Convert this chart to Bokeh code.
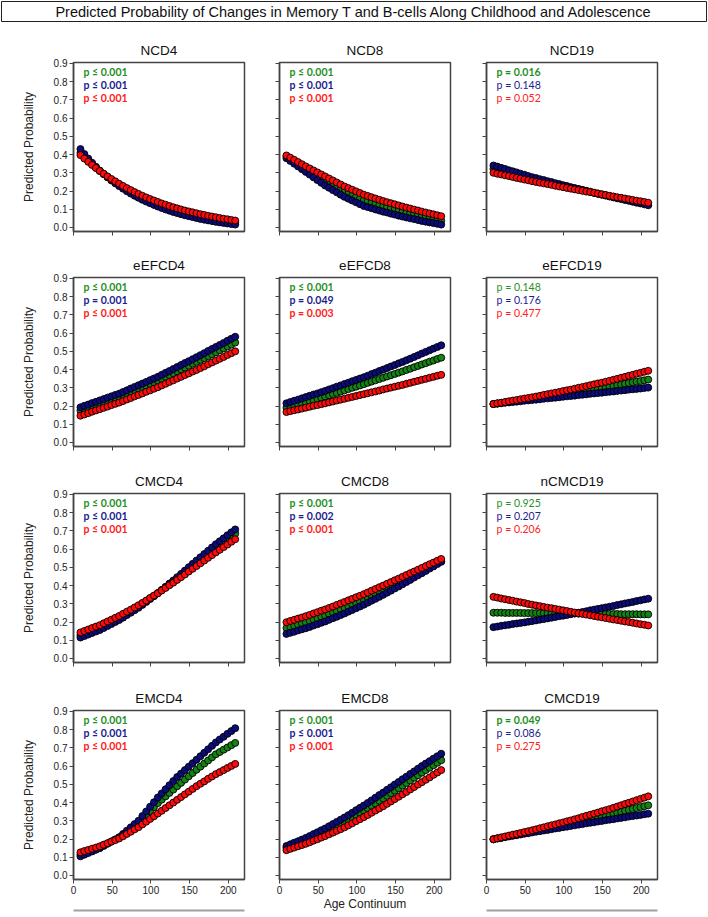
from bokeh.plotting import figure
from bokeh.layouts import column, row
from bokeh.models import FixedTicker, PrintfTickFormatter, LinearAxis, Range1d
from bokeh.embed import file_html
from bokeh.resources import INLINE
from bokeh.core.properties import value

TITLE = "Predicted Probability of Changes in Memory T and B-cells Along Childhood and Adolescence"

age = [9, 14, 19, 24, 29, 34, 39, 44, 49, 54, 59, 64, 69, 74, 79, 84, 89, 94, 99, 104,
       109, 114, 119, 124, 129, 134, 139, 144, 149, 154, 159, 164, 169, 174, 179, 184,
       189, 194, 199, 204, 209]

x_ticks = [0, 50, 100, 150, 200]
y_ticks = [0.0, 0.1, 0.2, 0.3, 0.4, 0.5, 0.6, 0.7, 0.8, 0.9]

# ---- NCD4
ncd4_green = [0.410,0.388,0.367,0.347,0.328,0.310,0.293,0.277,0.262,0.247,0.233,0.220,0.207,0.195,0.184,0.173,0.163,0.153,0.144,0.135,0.127,0.119,0.111,0.104,0.097,0.091,0.085,0.079,0.074,0.069,0.064,0.059,0.055,0.051,0.047,0.043,0.040,0.036,0.033,0.030,0.027]
ncd4_blue = [0.430,0.403,0.378,0.355,0.333,0.312,0.293,0.275,0.258,0.242,0.227,0.213,0.199,0.186,0.174,0.163,0.152,0.142,0.133,0.124,0.115,0.107,0.099,0.092,0.085,0.079,0.073,0.067,0.062,0.057,0.052,0.047,0.043,0.039,0.035,0.031,0.028,0.025,0.022,0.019,0.016]
ncd4_red = [0.397,0.378,0.360,0.343,0.326,0.310,0.295,0.280,0.266,0.253,0.240,0.228,0.216,0.205,0.194,0.184,0.174,0.165,0.156,0.148,0.140,0.132,0.125,0.118,0.111,0.105,0.099,0.093,0.088,0.083,0.078,0.073,0.069,0.064,0.060,0.056,0.052,0.048,0.045,0.041,0.038]
# ---- NCD8
ncd8_green = [0.390,0.376,0.363,0.349,0.336,0.322,0.308,0.295,0.281,0.268,0.254,0.242,0.230,0.219,0.207,0.195,0.186,0.177,0.168,0.159,0.150,0.144,0.137,0.131,0.124,0.118,0.112,0.106,0.100,0.094,0.088,0.083,0.078,0.073,0.068,0.063,0.058,0.053,0.048,0.043,0.038]
ncd8_blue = [0.380,0.365,0.350,0.335,0.320,0.305,0.290,0.275,0.260,0.245,0.230,0.218,0.205,0.193,0.180,0.168,0.158,0.148,0.138,0.128,0.118,0.112,0.106,0.099,0.093,0.087,0.082,0.076,0.071,0.065,0.060,0.055,0.050,0.046,0.041,0.036,0.032,0.028,0.024,0.020,0.016]
ncd8_red = [0.395,0.383,0.371,0.359,0.347,0.335,0.324,0.313,0.302,0.291,0.280,0.269,0.258,0.247,0.236,0.225,0.216,0.207,0.198,0.189,0.180,0.173,0.166,0.159,0.152,0.145,0.139,0.133,0.127,0.121,0.115,0.109,0.104,0.098,0.093,0.087,0.082,0.077,0.072,0.067,0.062]
# ---- NCD19
ncd19_green = [0.322,0.317,0.311,0.306,0.300,0.295,0.290,0.284,0.279,0.273,0.268,0.263,0.258,0.253,0.248,0.244,0.239,0.234,0.229,0.224,0.219,0.214,0.210,0.205,0.200,0.196,0.191,0.186,0.181,0.177,0.172,0.168,0.163,0.159,0.154,0.150,0.146,0.141,0.137,0.132,0.128]
ncd19_blue = [0.340,0.334,0.327,0.321,0.314,0.308,0.302,0.295,0.289,0.282,0.276,0.271,0.265,0.260,0.254,0.249,0.243,0.238,0.232,0.227,0.221,0.216,0.211,0.206,0.201,0.196,0.190,0.185,0.180,0.175,0.170,0.165,0.160,0.156,0.151,0.146,0.141,0.136,0.132,0.127,0.122]
ncd19_red = [0.300,0.295,0.291,0.286,0.282,0.277,0.272,0.268,0.263,0.259,0.254,0.250,0.246,0.242,0.238,0.234,0.229,0.225,0.221,0.217,0.213,0.209,0.205,0.201,0.197,0.194,0.190,0.186,0.182,0.178,0.174,0.170,0.166,0.163,0.159,0.155,0.151,0.147,0.144,0.140,0.136]
# ---- eEFCD4
eefcd4_green = [0.175,0.183,0.190,0.198,0.205,0.213,0.220,0.228,0.235,0.243,0.250,0.259,0.268,0.277,0.286,0.295,0.303,0.312,0.321,0.330,0.339,0.349,0.360,0.370,0.380,0.391,0.401,0.411,0.421,0.432,0.442,0.453,0.463,0.474,0.484,0.495,0.506,0.516,0.527,0.537,0.548]
eefcd4_blue = [0.193,0.201,0.208,0.216,0.223,0.231,0.238,0.246,0.253,0.261,0.268,0.277,0.286,0.296,0.305,0.314,0.323,0.332,0.342,0.351,0.360,0.371,0.382,0.392,0.403,0.414,0.425,0.436,0.446,0.457,0.468,0.479,0.490,0.502,0.513,0.524,0.535,0.546,0.558,0.569,0.580]
eefcd4_red = [0.147,0.154,0.161,0.169,0.176,0.183,0.190,0.197,0.205,0.212,0.219,0.227,0.236,0.244,0.253,0.261,0.269,0.278,0.286,0.295,0.303,0.313,0.322,0.332,0.341,0.351,0.360,0.370,0.379,0.389,0.398,0.408,0.418,0.429,0.439,0.449,0.459,0.469,0.480,0.490,0.500]
# ---- eEFCD8
eefcd8_green = [0.190,0.196,0.202,0.209,0.215,0.221,0.227,0.233,0.240,0.246,0.252,0.259,0.266,0.272,0.279,0.286,0.293,0.300,0.306,0.313,0.320,0.327,0.334,0.341,0.348,0.355,0.362,0.369,0.376,0.383,0.390,0.398,0.405,0.413,0.420,0.428,0.435,0.443,0.450,0.458,0.465]
eefcd8_blue = [0.215,0.222,0.229,0.235,0.242,0.249,0.256,0.263,0.269,0.276,0.283,0.291,0.298,0.306,0.313,0.321,0.328,0.336,0.343,0.351,0.358,0.366,0.375,0.383,0.392,0.400,0.408,0.417,0.425,0.434,0.442,0.451,0.460,0.469,0.478,0.488,0.497,0.506,0.515,0.524,0.533]
eefcd8_red = [0.167,0.172,0.177,0.181,0.186,0.191,0.196,0.201,0.205,0.210,0.215,0.220,0.225,0.230,0.235,0.240,0.245,0.250,0.255,0.260,0.265,0.270,0.275,0.280,0.285,0.291,0.296,0.301,0.306,0.311,0.316,0.322,0.327,0.333,0.338,0.344,0.349,0.355,0.360,0.366,0.371]
# ---- eEFCD19
eefcd19_green = [0.211,0.214,0.217,0.220,0.223,0.226,0.229,0.232,0.235,0.238,0.241,0.244,0.247,0.250,0.253,0.257,0.260,0.263,0.266,0.269,0.272,0.276,0.279,0.283,0.286,0.290,0.293,0.297,0.300,0.304,0.307,0.311,0.315,0.318,0.322,0.326,0.330,0.334,0.337,0.341,0.345]
eefcd19_blue = [0.211,0.213,0.215,0.218,0.220,0.222,0.224,0.226,0.229,0.231,0.233,0.235,0.237,0.240,0.242,0.244,0.246,0.248,0.251,0.253,0.255,0.257,0.260,0.262,0.264,0.267,0.269,0.271,0.273,0.276,0.278,0.280,0.283,0.285,0.287,0.290,0.292,0.294,0.296,0.299,0.301]
eefcd19_red = [0.211,0.215,0.218,0.222,0.226,0.230,0.233,0.237,0.241,0.244,0.248,0.252,0.256,0.261,0.265,0.269,0.273,0.277,0.282,0.286,0.290,0.295,0.300,0.304,0.309,0.314,0.319,0.324,0.328,0.333,0.338,0.344,0.349,0.355,0.360,0.366,0.371,0.377,0.382,0.388,0.393]
# ---- CMCD4
cmcd4_green = [0.128,0.136,0.144,0.153,0.161,0.169,0.180,0.190,0.201,0.211,0.222,0.235,0.248,0.260,0.273,0.286,0.301,0.315,0.330,0.344,0.359,0.375,0.391,0.408,0.424,0.440,0.457,0.474,0.491,0.508,0.525,0.542,0.558,0.575,0.591,0.608,0.623,0.639,0.654,0.670,0.685]
cmcd4_blue = [0.115,0.123,0.131,0.140,0.148,0.156,0.167,0.178,0.189,0.200,0.211,0.224,0.238,0.251,0.265,0.278,0.294,0.310,0.326,0.342,0.358,0.376,0.393,0.411,0.428,0.446,0.464,0.482,0.501,0.519,0.537,0.555,0.573,0.591,0.609,0.627,0.643,0.659,0.676,0.692,0.708]
cmcd4_red = [0.143,0.151,0.159,0.167,0.175,0.183,0.193,0.203,0.213,0.223,0.233,0.245,0.257,0.268,0.280,0.292,0.305,0.318,0.332,0.345,0.358,0.373,0.387,0.402,0.416,0.431,0.446,0.461,0.477,0.492,0.507,0.522,0.537,0.552,0.567,0.582,0.596,0.611,0.625,0.640,0.654]
# ---- CMCD8
cmcd8_green = [0.167,0.173,0.180,0.186,0.193,0.199,0.206,0.214,0.221,0.229,0.236,0.244,0.253,0.261,0.270,0.278,0.287,0.296,0.305,0.314,0.323,0.333,0.343,0.353,0.363,0.373,0.383,0.394,0.404,0.415,0.425,0.436,0.447,0.457,0.468,0.479,0.490,0.501,0.511,0.522,0.533]
cmcd8_blue = [0.135,0.141,0.147,0.154,0.160,0.166,0.173,0.181,0.188,0.196,0.203,0.212,0.221,0.229,0.238,0.247,0.257,0.266,0.276,0.285,0.295,0.306,0.317,0.327,0.338,0.349,0.361,0.372,0.384,0.395,0.407,0.419,0.431,0.444,0.456,0.468,0.480,0.493,0.505,0.518,0.530]
cmcd8_red = [0.199,0.206,0.212,0.219,0.225,0.232,0.239,0.247,0.254,0.262,0.269,0.277,0.285,0.294,0.302,0.310,0.319,0.327,0.336,0.344,0.353,0.362,0.372,0.381,0.391,0.400,0.410,0.419,0.429,0.438,0.448,0.458,0.468,0.477,0.487,0.497,0.507,0.517,0.526,0.536,0.546]
# ---- nCMCD19
ncmcd19_green = [0.251,0.251,0.251,0.250,0.250,0.250,0.250,0.250,0.249,0.249,0.249,0.249,0.249,0.248,0.248,0.248,0.248,0.248,0.247,0.247,0.247,0.247,0.246,0.246,0.246,0.246,0.245,0.245,0.245,0.244,0.244,0.244,0.244,0.243,0.243,0.243,0.243,0.243,0.242,0.242,0.242]
ncmcd19_blue = [0.172,0.175,0.179,0.182,0.185,0.189,0.192,0.195,0.198,0.202,0.205,0.209,0.213,0.216,0.220,0.224,0.228,0.232,0.235,0.239,0.243,0.247,0.251,0.255,0.259,0.264,0.268,0.272,0.276,0.280,0.284,0.288,0.293,0.297,0.302,0.306,0.310,0.315,0.319,0.324,0.328]
ncmcd19_red = [0.338,0.334,0.329,0.325,0.321,0.317,0.312,0.308,0.304,0.299,0.295,0.291,0.287,0.283,0.279,0.276,0.272,0.268,0.264,0.260,0.256,0.252,0.248,0.245,0.241,0.237,0.233,0.229,0.226,0.222,0.218,0.214,0.211,0.207,0.203,0.200,0.196,0.192,0.188,0.185,0.181]
# ---- EMCD4
emcd4_green = [0.115,0.123,0.131,0.139,0.147,0.155,0.166,0.176,0.187,0.197,0.208,0.223,0.239,0.254,0.270,0.285,0.307,0.330,0.352,0.375,0.397,0.416,0.434,0.453,0.471,0.490,0.508,0.526,0.544,0.562,0.580,0.597,0.614,0.631,0.648,0.665,0.677,0.690,0.702,0.715,0.727]
emcd4_blue = [0.105,0.114,0.123,0.132,0.141,0.150,0.162,0.174,0.186,0.198,0.210,0.228,0.246,0.264,0.282,0.300,0.326,0.351,0.377,0.402,0.428,0.450,0.473,0.495,0.518,0.540,0.559,0.578,0.597,0.616,0.635,0.654,0.673,0.692,0.711,0.730,0.746,0.761,0.777,0.792,0.808]
emcd4_red = [0.127,0.134,0.140,0.147,0.153,0.160,0.169,0.177,0.186,0.194,0.203,0.215,0.228,0.240,0.253,0.265,0.280,0.295,0.310,0.325,0.340,0.355,0.370,0.385,0.400,0.415,0.430,0.445,0.460,0.475,0.490,0.503,0.516,0.530,0.543,0.556,0.567,0.578,0.590,0.601,0.612]
# ---- EMCD8
emcd8_green = [0.152,0.160,0.168,0.176,0.184,0.192,0.201,0.211,0.220,0.230,0.239,0.250,0.261,0.272,0.283,0.294,0.306,0.319,0.331,0.344,0.356,0.369,0.383,0.396,0.410,0.423,0.437,0.451,0.465,0.479,0.493,0.507,0.521,0.536,0.550,0.564,0.578,0.591,0.605,0.618,0.632]
emcd8_blue = [0.162,0.171,0.180,0.188,0.197,0.206,0.216,0.227,0.237,0.248,0.258,0.270,0.282,0.294,0.306,0.318,0.331,0.344,0.358,0.371,0.384,0.398,0.412,0.427,0.441,0.455,0.470,0.484,0.499,0.513,0.528,0.542,0.557,0.571,0.586,0.600,0.614,0.627,0.641,0.654,0.668]
emcd8_red = [0.139,0.146,0.153,0.160,0.167,0.174,0.182,0.191,0.199,0.208,0.216,0.226,0.235,0.245,0.254,0.264,0.275,0.286,0.298,0.309,0.320,0.332,0.344,0.356,0.368,0.380,0.393,0.406,0.419,0.432,0.445,0.458,0.472,0.485,0.499,0.512,0.525,0.538,0.552,0.565,0.578]
# ---- CMCD19
cmcd19_green = [0.199,0.203,0.207,0.212,0.216,0.220,0.224,0.228,0.233,0.237,0.241,0.246,0.250,0.255,0.260,0.265,0.269,0.274,0.279,0.283,0.288,0.293,0.297,0.302,0.307,0.312,0.316,0.321,0.326,0.330,0.335,0.340,0.345,0.350,0.355,0.360,0.365,0.370,0.375,0.380,0.385]
cmcd19_blue = [0.199,0.203,0.206,0.210,0.214,0.218,0.221,0.225,0.229,0.232,0.236,0.240,0.243,0.247,0.250,0.254,0.258,0.261,0.265,0.268,0.272,0.275,0.279,0.282,0.286,0.289,0.292,0.296,0.299,0.303,0.306,0.309,0.313,0.316,0.319,0.323,0.326,0.329,0.332,0.336,0.339]
cmcd19_red = [0.199,0.204,0.209,0.214,0.219,0.224,0.228,0.233,0.238,0.243,0.248,0.253,0.259,0.264,0.270,0.275,0.280,0.286,0.291,0.297,0.302,0.308,0.314,0.321,0.327,0.333,0.339,0.345,0.352,0.358,0.364,0.371,0.378,0.385,0.392,0.399,0.406,0.413,0.420,0.427,0.434]

LE = "p \u2264 0.001"
panels = [
    ("NCD4", ncd4_green, ncd4_blue, ncd4_red, [(LE, True), (LE, True), (LE, True)]),
    ("NCD8", ncd8_green, ncd8_blue, ncd8_red, [(LE, True), (LE, True), (LE, True)]),
    ("NCD19", ncd19_green, ncd19_blue, ncd19_red, [("p = 0.016", True), ("p = 0.148", False), ("p = 0.052", False)]),
    ("eEFCD4", eefcd4_green, eefcd4_blue, eefcd4_red, [(LE, True), ("p = 0.001", True), (LE, True)]),
    ("eEFCD8", eefcd8_green, eefcd8_blue, eefcd8_red, [(LE, True), ("p = 0.049", True), ("p = 0.003", True)]),
    ("eEFCD19", eefcd19_green, eefcd19_blue, eefcd19_red, [("p = 0.148", False), ("p = 0.176", False), ("p = 0.477", False)]),
    ("CMCD4", cmcd4_green, cmcd4_blue, cmcd4_red, [(LE, True), (LE, True), (LE, True)]),
    ("CMCD8", cmcd8_green, cmcd8_blue, cmcd8_red, [(LE, True), ("p = 0.002", True), (LE, True)]),
    ("nCMCD19", ncmcd19_green, ncmcd19_blue, ncmcd19_red, [("p = 0.925", False), ("p = 0.207", False), ("p = 0.206", False)]),
    ("EMCD4", emcd4_green, emcd4_blue, emcd4_red, [(LE, True), (LE, True), (LE, True)]),
    ("EMCD8", emcd8_green, emcd8_blue, emcd8_red, [(LE, True), (LE, True), (LE, True)]),
    ("CMCD19", cmcd19_green, cmcd19_blue, cmcd19_red, [("p = 0.049", True), ("p = 0.086", False), ("p = 0.275", False)]),
]

MARKER_FILL = ["#138413", "#0b0b7c", "#ff0a0a"]   # green, blue, red
TEXT_COL = ["#1f8f1f", "#1c1c8e", "#ff2020"]
AX = "#444444"
FONT = "Liberation Sans"

# layout (pixels)
LEFT = [73, 24, 25]
RIGHT = [11, 11, 50]
FRAME_W = 171
FRAME_H = 169
ROW_TOP = [40, 32, 33, 34]
ROW_BOTTOM = [14, 14, 14, 37]

PV_X = 13
PV_Y = [0.852, 0.781, 0.711]


def make_panel(ci, ri, name, g, b, r, pv):
    last = ri == 3
    p = figure(width=LEFT[ci] + FRAME_W + RIGHT[ci],
               height=ROW_TOP[ri] + FRAME_H + ROW_BOTTOM[ri],
               x_range=Range1d(0, 221), y_range=Range1d(-0.022, 0.905),
               toolbar_location=None, output_backend="svg",
               min_border_left=LEFT[ci], min_border_right=RIGHT[ci],
               min_border_top=ROW_TOP[ri], min_border_bottom=ROW_BOTTOM[ri], title=name)
    p.title.align = "center"
    p.title.text_font = FONT
    p.title.text_font_size = "13.5px"
    p.title.text_font_style = "normal"
    p.title.text_color = "#111111"
    p.title.standoff = 9
    p.grid.visible = False
    p.outline_line_color = AX
    p.outline_line_width = 1.5
    p.background_fill_color = "white"
    p.border_fill_color = "white"

    for ax in (p.xaxis[0], p.yaxis[0]):
        ax.axis_line_color = AX
        ax.axis_line_width = 1.5
        ax.major_tick_line_color = AX
        ax.major_tick_out = 4
        ax.major_tick_in = 0
        ax.minor_tick_line_color = None
        ax.major_label_text_font = FONT
        ax.major_label_text_color = "#222222"
        ax.axis_label_text_font = FONT
        ax.axis_label_text_font_style = "normal"
        ax.axis_label_text_color = "#222222"
        ax.axis_label_text_font_size = "12px"
        ax.major_label_standoff = 2

    xa = p.xaxis[0]
    ya = p.yaxis[0]
    xa.ticker = FixedTicker(ticks=x_ticks)
    ya.ticker = FixedTicker(ticks=y_ticks)
    ya.formatter = PrintfTickFormatter(format="%.1f")

    if ci == 0:
        ya.major_label_text_font_size = "10px"
        ya.axis_label = "Predicted Probability"
        ya.axis_label_standoff = 15
    else:
        ya.major_label_text_font_size = "0px"
        ya.major_label_text_color = None

    if last:
        xa.major_label_text_font_size = "10px"
        xa.axis_label_standoff = 0
        if ci == 1:
            xa.axis_label = "Age Continuum"
        else:
            xa.axis_label = " "
            xa.axis_label_text_font_size = "10px"
            xa.axis_label_text_color = None
            deco = LinearAxis(ticker=FixedTicker(ticks=[]), axis_line_color="#a0a0a0",
                              axis_line_width=2, major_tick_line_color=None,
                              minor_tick_line_color=None, major_label_text_font_size="0px",
                              major_label_text_color=None, major_label_standoff=0)
            p.add_layout(deco, "below")
    else:
        xa.major_label_text_font_size = "0px"
        xa.major_label_text_color = None

    for series, fc in ((g, MARKER_FILL[0]), (b, MARKER_FILL[1]), (r, MARKER_FILL[2])):
        p.scatter(age, series, size=7, fill_color=fc, line_color="black", line_width=0.9)

    for (txt, bold), yy, tc in zip(pv, PV_Y, TEXT_COL):
        p.text(x=[PV_X], y=[yy], text=[txt], text_font=value("Lato"),
               text_font_size="10.5px", text_font_style="bold" if bold else "normal",
               text_color=tc, text_baseline="middle", text_align="left")
    return p


title_fig = figure(width=707, height=22, x_range=Range1d(0, 1), y_range=Range1d(0, 1),
                   toolbar_location=None, output_backend="svg", x_axis_type=None,
                   y_axis_type=None, min_border=1)
title_fig.grid.visible = False
title_fig.outline_line_color = "#222222"
title_fig.outline_line_width = 1
title_fig.text(x=[0.5], y=[0.5], text=[TITLE], text_font=value(FONT), text_font_size="14.5px",
               text_align="center", text_baseline="middle", text_color="#111111")

rows = []
for ri in range(4):
    figs = []
    for ci in range(3):
        name, g, b, r, pv = panels[ri * 3 + ci]
        figs.append(make_panel(ci, ri, name, g, b, r, pv))
    rows.append(row(*figs))

layout = column(title_fig, *rows)
open("out.html", "w").write(file_html(layout, INLINE))
